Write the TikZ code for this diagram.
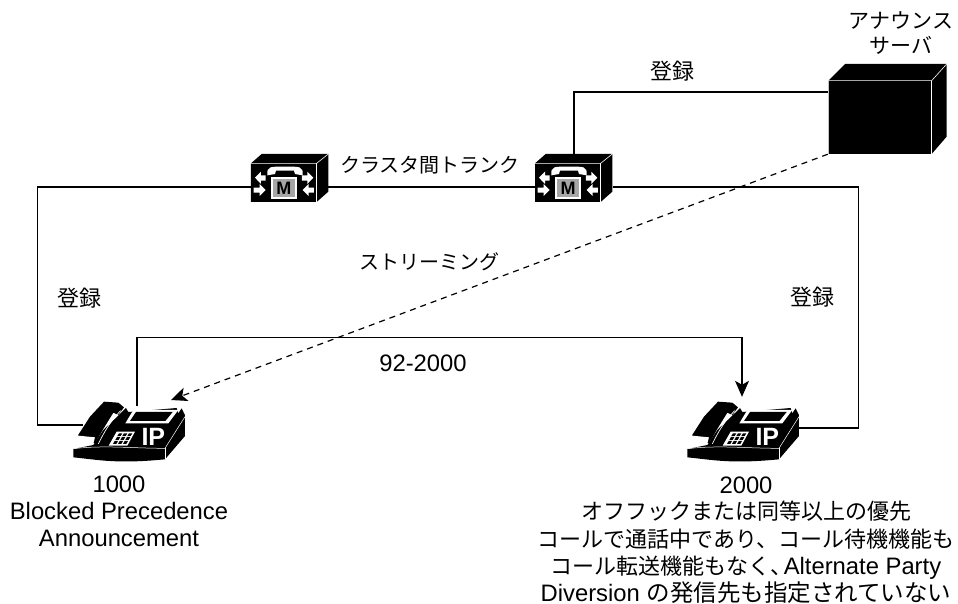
\documentclass[tikz,border=0pt]{standalone}
\usepackage{fontspec}
\usepackage{tikz}
\usetikzlibrary{arrows.meta,calc}
\setmainfont{Liberation Sans}
\setsansfont{Liberation Sans}
\newfontfamily\cjk{Noto Sans CJK JP}
\newcommand{\bigtext}{\fontsize{23.8}{27}\selectfont}
\newcommand{\midtext}{\fontsize{20}{24}\selectfont}
\newcommand{\regtext}{\fontsize{22}{24}\selectfont}
\newcommand{\jpline}{\cjk\fontsize{22}{27}\selectfont}

\tikzset{
  lbl/.style = {font=\midtext, inner sep=0pt, align=center},
  reg/.style = {lbl, font=\regtext},
  info/.style = {font=\bigtext, inner sep=0pt, align=center, anchor=north},
  slot/.style = {inner sep=0pt, minimum width=#1},
  link/.style = {line width=1.2pt, draw=black},
  flow/.style = {link, -{Stealth[length=16pt,width=14pt,inset=4pt]}},
  cropunits/.style = {x=0.3333pt, y=-0.3333pt},
  mswitch/.pic = {
    \begin{scope}[cropunits]
      \fill[black] (123,100) -- (155,72) -- (355,72) -- (355,185) -- (320,216) -- (123,216) -- cycle;
      \draw[white, line width=0.6pt] (123,100) -- (320,100) -- (355,72);
      \draw[white, line width=0.6pt] (320,100) -- (320,216);
      % handset
      \fill[white] (172,136) .. controls (170,108) and (180,110) .. (225,110) .. controls (270,110) and (280,108) .. (278,136) -- (255,132) -- (252,122) -- (198,122) -- (195,132) -- cycle;
      % M box
      \fill[white] (182,140) rectangle (262,208);
      \fill[black!35] (190,148) rectangle (255,200);
      \node[inner sep=0pt, font=\bfseries\fontsize{18}{18}\selectfont] (mLetter) at (222,174) {M};
      % arrows
      \fill[white] (135,143) -- (153,125) -- (153,136) -- (167,136) -- (167,152) -- (153,152) -- (153,162) -- cycle;
      \fill[white] (167,180) -- (149,162) -- (149,173) -- (131,173) -- (131,188) -- (149,188) -- (149,198) -- cycle;
      \fill[white] (310,143) -- (292,125) -- (292,136) -- (276,136) -- (276,152) -- (292,152) -- (292,162) -- cycle;
      \fill[white] (278,180) -- (296,162) -- (296,173) -- (312,173) -- (312,188) -- (296,188) -- (296,198) -- cycle;
    \end{scope}
  },
  ipphone/.pic = {
    \begin{scope}[cropunits]
      % base
      \fill[black] (70,207) -- (70,232) .. controls (150,240) and (200,252) .. (345,238) -- (405,168) -- (405,105) -- (395,85) -- (385,100) -- (380,84) -- (235,96) -- (228,84) -- (212,100) -- (160,150) -- (130,195) -- cycle;
      \draw[white, line width=0.5pt] (72,206) .. controls (160,195) and (250,205) .. (345,205) -- (405,110);
      \draw[white, line width=0.5pt] (345,205) -- (345,238);
      % handset
      \fill[black] (162,65) -- (205,68) -- (222,82) -- (205,105) -- (190,98) -- (158,150) -- (135,190) -- (84,166) -- (120,110) -- cycle;
      \draw[white, line width=0.7pt] (212,92) .. controls (185,120) and (165,150) .. (145,192);
      \fill[white] (85,167) -- (135,172) -- (130,190) -- (85,190) -- cycle;
      % display
      \fill[white] (250,90) -- (385,90) -- (355,130) -- (226,130) -- cycle;
      \fill[black] (258,96) -- (368,96) -- (346,123) -- (240,123) -- cycle;
      % keypad
      \fill[white] (200,155) -- (255,155) -- (232,197) -- (176,197) -- cycle;
      \foreach \kx in {0,1,2} {
        \fill[black] ({207+\kx*15},160) -- ({217+\kx*15},160) -- ({212+\kx*15},168) -- ({202+\kx*15},168) -- cycle;
        \fill[black] ({201+\kx*15},171) -- ({211+\kx*15},171) -- ({206+\kx*15},180) -- ({196+\kx*15},180) -- cycle;
        \fill[black] ({194+\kx*15},183) -- ({204+\kx*15},183) -- ({199+\kx*15},192) -- ({189+\kx*15},192) -- cycle;
      }
      \node[white, inner sep=0pt, font=\bfseries\fontsize{25}{25}\selectfont] (ipText) at (310,170) {IP};
    \end{scope}
  },
  annserver/.pic = {
    \begin{scope}[cropunits]
      \fill[black] (115,122) -- (165,72) -- (470,72) -- (470,290) -- (425,342) -- (115,342) -- cycle;
      \draw[white, line width=0.6pt] (115,342) -- (115,122) -- (425,122) -- (470,72);
      \draw[white, line width=0.6pt] (425,122) -- (425,342);
    \end{scope}
  }
}

\begin{document}
\begin{tikzpicture}[x=1pt, y=-1pt]
  \useasboundingbox (0,0) rectangle (958,604);

  \node[slot=77, minimum height=30] (swA) at (289.5,187) {};
  \node[slot=77, minimum height=30] (swB) at (574,187) {};
  \node[slot=108, minimum height=38] (phoneA) at (137,425) {};
  \node[slot=112, minimum height=62] (phoneB) at (742,428) {};
  \node[slot=104, minimum height=124] (server) at (880,92) {};
  \coordinate (phoneAin) at (171,400);

  \draw[link] (swA.west) -- ++(-213,0) |- (phoneA.west);
  \draw[link] (swA.east) -- (swB.west);
  \draw[link] (swB.east) -- ++(246,0) |- (phoneB.east);
  \draw[link] (swB.north) |- (server.west);
  \draw[flow] (phoneA.north) |- ($(phoneB.north)+(0,-59)$) -- (phoneB.north);
  \draw[flow, dash pattern=on 6pt off 5pt] (server.south west) -- (phoneAin);

  \pic at (210,130) {mswitch};
  \pic at (494,130) {mswitch};
  \pic at (50,380) {ipphone};
  \pic at (664,380) {ipphone};
  \pic at (790,40) {annserver};

  \node[lbl, font=\fontsize{21}{25}\selectfont] (annLabel) at (901,33) {{\cjk アナウンス}\\{\cjk サーバ}};
  \node[reg] (regTop) at (672,71) {\cjk 登録};
  \node[lbl] (trunk) at (430,165) {\cjk クラスタ間トランク};
  \node[lbl] (stream) at (429,262) {\cjk ストリーミング};
  \node[reg] (regLeft) at (79,298) {\cjk 登録};
  \node[reg] (regRight) at (812,297) {\cjk 登録};
  \node[lbl, font=\bigtext] (callNum) at (423,363) {92-2000};
  \node[info] (infoA) at (119,476) {1000\\Blocked Precedence\\Announcement};
  \node[info] (infoB) at (746,477) {2000\\[-1pt]{\jpline オフフックまたは同等以上の優先}\\[1pt]{\jpline コールで通話中であり、コール待機機能も}\\{\jpline コール転送機能もなく、}\hspace{-9pt}Alternate Party\\Diversion {\cjk\fontsize{23.5}{27}\selectfont の発信先も指定されていない}};
\end{tikzpicture}
\end{document}
